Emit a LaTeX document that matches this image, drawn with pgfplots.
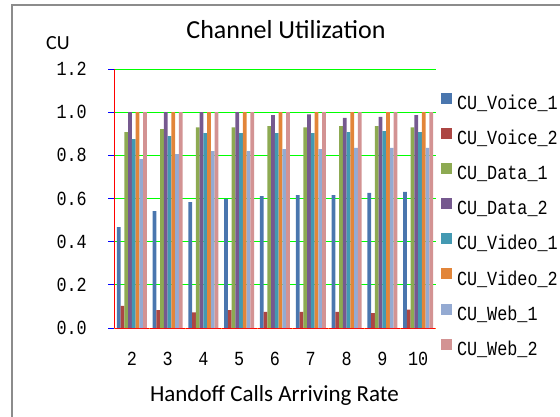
\documentclass[border=0pt]{standalone}
\usepackage{fontspec}
\setmainfont{Carlito}
\newfontfamily\cumono[FakeStretch=0.84]{Liberation Mono}
\usepackage{pgfplots}
\usepackage{pgfplotstable}
\pgfplotsset{compat=1.18}
\definecolor{c1}{HTML}{4A76AE}
\definecolor{c2}{HTML}{AC4643}
\definecolor{c3}{HTML}{8DAA52}
\definecolor{c4}{HTML}{76598F}
\definecolor{c5}{HTML}{4399B2}
\definecolor{c6}{HTML}{E28539}
\definecolor{c7}{HTML}{94AAD2}
\definecolor{c8}{HTML}{D39393}
\definecolor{framegray}{HTML}{8C8C8C}
\definecolor{axisgray}{HTML}{9A9A9A}
\definecolor{gridgray}{HTML}{A6A6A6}
\pgfplotstableread{
x   va    vb    da    db    ea    eb   wa    wb
0.5 0.467 0.103 0.907 1.000 0.875 1.0 0.782 1.0
1.5 0.542 0.083 0.921 1.000 0.889 1.0 0.806 1.0
2.5 0.583 0.072 0.930 1.000 0.903 1.0 0.819 1.0
3.5 0.598 0.083 0.930 1.000 0.903 1.0 0.820 1.0
4.5 0.611 0.075 0.935 0.986 0.903 1.0 0.829 1.0
5.5 0.616 0.075 0.930 0.990 0.903 1.0 0.829 1.0
6.5 0.616 0.075 0.935 0.973 0.908 1.0 0.835 1.0
7.5 0.626 0.069 0.935 0.978 0.912 1.0 0.835 1.0
8.5 0.631 0.085 0.930 0.986 0.908 1.0 0.835 1.0
}\datatable
\begin{document}
\begin{tikzpicture}[x=1pt,y=1pt]
\useasboundingbox (0,0) rectangle (560,416);
\draw[line width=1.3pt, color=framegray] (12,-5) -- (12,411) -- (565,411);
\begin{axis}[
  at={(114pt,88pt)}, anchor=south west,
  scale only axis, width=322pt, height=259pt,
  xmin=0, xmax=9, ymin=0, ymax=1.2,
  axis x line*=bottom, axis y line*=left,
  axis line style={color=red, line width=1pt},
  xmajorgrids=false, xminorgrids=false, yminorgrids=false, ymajorgrids=true,
  y grid style={color=green, line width=1pt},
  ytick={0,0.2,0.4,0.6,0.8,1.0,1.2},
  yticklabels={0.0,0.2,0.4,0.6,0.8,1.0,1.2},
  xtick={0.5,1.5,2.5,3.5,4.5,5.5,6.5,7.5,8.5},
  xticklabels={2,3,4,5,6,7,8,9,10},
  tick align=outside,
  major tick length=6pt,
  ytick style={color=blue, line width=1pt},
  xtick style={draw=none},
  yticklabel style={font=\cumono\fontsize{20}{24}\selectfont, inner sep=0pt, anchor=east, xshift=-21pt},
  xticklabel style={font=\cumono\fontsize{20}{24}\selectfont, inner sep=0pt, anchor=north, yshift=-18pt},
  ybar=0pt, bar width=3.75pt,
  every axis plot post/.append style={draw=none, legend image code/.code={\fill[##1] (0pt,0.7pt) rectangle (11pt,11.7pt);}},
  title={Channel Utilization},
  title style={font=\fontsize{26}{30}\selectfont, at={(0.534,1.0927)}, anchor=base, inner sep=0pt},
  ylabel={CU},
  ylabel style={rotate=-90, font=\fontsize{20}{24}\selectfont, at={(-0.2112,1.0761)}, anchor=base west, inner sep=0pt},
  xlabel={Handoff Calls Arriving Rate},
  xlabel style={font=\fontsize{23}{27}\selectfont, at={(0.4984,-0.2846)}, anchor=base, inner sep=0pt},
  legend cell align=left,
  legend style={at={(1.01553,0.9085)}, anchor=north west, draw=none, fill=none, inner sep=0pt, outer sep=0pt,
    font=\cumono\fontsize{20}{24}\selectfont, row sep=14.44pt, column sep=5pt,
    nodes={inner sep=0pt, text height=14pt, text depth=4pt}},
]
\addplot[fill=c1] table[x=x,y=va] {\datatable};
\addplot[fill=c2] table[x=x,y=vb] {\datatable};
\addplot[fill=c3] table[x=x,y=da] {\datatable};
\addplot[fill=c4] table[x=x,y=db] {\datatable};
\addplot[fill=c5] table[x=x,y=ea] {\datatable};
\addplot[fill=c6] table[x=x,y=eb] {\datatable};
\addplot[fill=c7] table[x=x,y=wa] {\datatable};
\addplot[fill=c8] table[x=x,y=wb] {\datatable};
\legend{CU\_Voice\_1,CU\_Voice\_2,CU\_Data\_1,CU\_Data\_2,CU\_Video\_1,CU\_Video\_2,CU\_Web\_1,CU\_Web\_2}
\pgfplotsinvokeforeach{0,1,2,3,4,5,6,7,8,9}{\draw[color=orange, line width=1pt] (axis cs:#1,0) -- ++(0pt,-6pt);}
\end{axis}
\end{tikzpicture}
\end{document}
